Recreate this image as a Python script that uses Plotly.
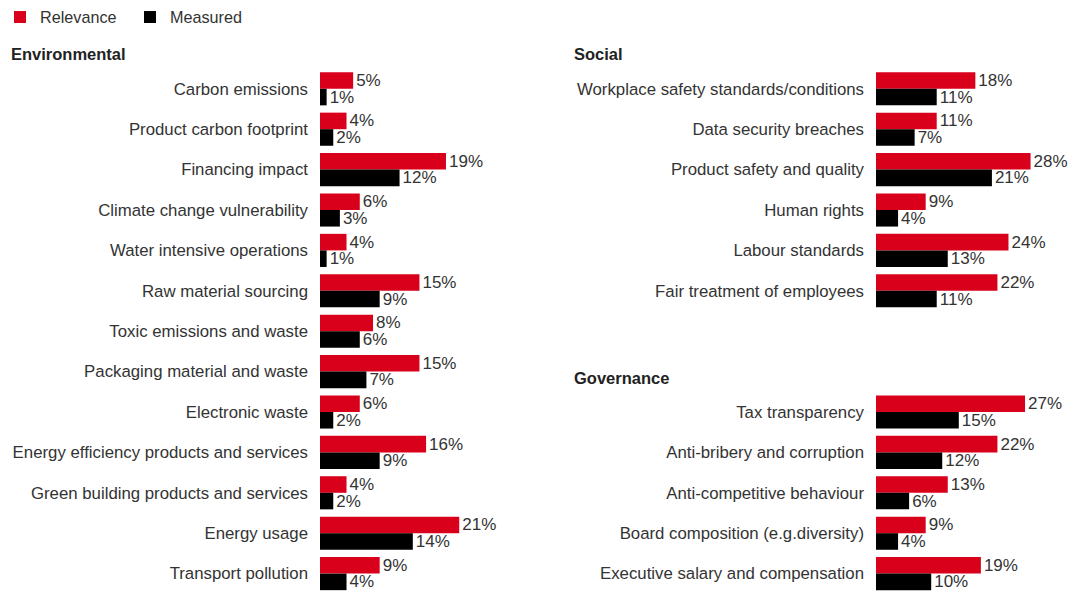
import plotly.graph_objects as go

# Environmental issues
env_labels = [
    "Carbon emissions", "Product carbon footprint", "Financing impact",
    "Climate change vulnerability", "Water intensive operations",
    "Raw material sourcing", "Toxic emissions and waste",
    "Packaging material and waste", "Electronic waste",
    "Energy efficiency products and services",
    "Green building products and services", "Energy usage",
    "Transport pollution",
]
env_relevance = [5, 4, 19, 6, 4, 15, 8, 15, 6, 16, 4, 21, 9]
env_measured = [1, 2, 12, 3, 1, 9, 6, 7, 2, 9, 2, 14, 4]

# Social issues
soc_labels = [
    "Workplace safety standards/conditions", "Data security breaches",
    "Product safety and quality", "Human rights", "Labour standards",
    "Fair treatment of employees",
]
soc_relevance = [18, 11, 28, 9, 24, 22]
soc_measured = [11, 7, 21, 4, 13, 11]

# Governance issues
gov_labels = [
    "Tax transparency", "Anti-bribery and corruption",
    "Anti-competitive behaviour", "Board composition (e.g.diversity)",
    "Executive salary and compensation",
]
gov_relevance = [27, 22, 13, 9, 19]
gov_measured = [15, 12, 6, 4, 10]

series_names = ["Relevance", "Measured"]

RED = "#d9001b"
BLACK = "#000000"
TEXT = "#333333"
FONT = "Liberation Sans, Arial, sans-serif"
W, H = 1072, 592

# row slots: left column 0..12, right column social 0..5 and governance 8..12
env_pos = list(range(len(env_labels)))
soc_pos = list(range(len(soc_labels)))
gov_pos = [8 + i for i in range(len(gov_labels))]
right_pos = soc_pos + gov_pos
right_labels = soc_labels + gov_labels
right_relevance = soc_relevance + gov_relevance
right_measured = soc_measured + gov_measured

fig = go.Figure()


def add_pair(pos, rel, mea, xa, ya, show):
    for name, vals, col in ((series_names[0], rel, RED), (series_names[1], mea, BLACK)):
        fig.add_trace(go.Bar(
            y=pos, x=vals, orientation="h", name=name, legendgroup=name,
            showlegend=show, marker=dict(color=col, line=dict(width=0)),
            texttemplate="%{x}%", textposition="outside",
            textfont=dict(color=TEXT, size=17, family=FONT),
            constraintext="none", cliponaxis=False,
            xaxis=xa, yaxis=ya, hoverinfo="skip",
        ))


add_pair(env_pos, env_relevance, env_measured, "x", "y", True)
add_pair(right_pos, right_relevance, right_measured, "x2", "y2", False)

# pixel geometry of the row slots
row0_center = 88.8
pitch = 40.4
y_top = -row0_center / pitch
y_bot = (H - row0_center) / pitch
yrange = [y_bot, y_top]

left_x0, left_x1 = 320, 540
right_x0, right_x1 = 876, W
left_scale = 6.63   # px per percent
right_scale = 5.52

common_x = dict(showgrid=False, zeroline=False, showticklabels=False,
                showline=False, ticks="", fixedrange=True)
common_y = dict(showgrid=False, zeroline=False, showline=False, ticks="",
                range=yrange, automargin=False, ticklabelstandoff=11,
                tickfont=dict(color=TEXT, size=16.8, family=FONT))

fig.update_layout(
    width=W, height=H,
    margin=dict(l=0, r=0, t=0, b=0),
    paper_bgcolor="white", plot_bgcolor="white",
    barmode="group", bargap=0.18, bargroupgap=0,
    font=dict(family=FONT, color=TEXT, size=16),
    xaxis=dict(domain=[left_x0 / W, left_x1 / W],
               range=[0, (left_x1 - left_x0) / left_scale], **common_x),
    xaxis2=dict(domain=[right_x0 / W, right_x1 / W],
                range=[0, (right_x1 - right_x0) / right_scale], **common_x),
    yaxis=dict(anchor="x", tickvals=env_pos, ticktext=env_labels, **common_y),
    yaxis2=dict(anchor="x2", tickvals=right_pos, ticktext=right_labels, **common_y),
    legend=dict(orientation="h", x=0, xanchor="left", y=1, yanchor="top",
                font=dict(size=16.2, color=TEXT, family=FONT),
                entrywidth=85, entrywidthmode="pixels",
                bgcolor="rgba(0,0,0,0)", tracegroupgap=0),
    showlegend=True,
)

headers = [("Environmental", 9, "y", -0.86), ("Social", 572, "y2", -0.86),
           ("Governance", 572, "y2", 7.16)]
for text, px, yref, yv in headers:
    fig.add_annotation(text=f"<b>{text}</b>", x=px / W, xref="paper",
                       y=yv, yref=yref, xanchor="left", yanchor="middle",
                       showarrow=False,
                       font=dict(size=16.5, color="#222222", family=FONT))

fig.write_html("out.html")
